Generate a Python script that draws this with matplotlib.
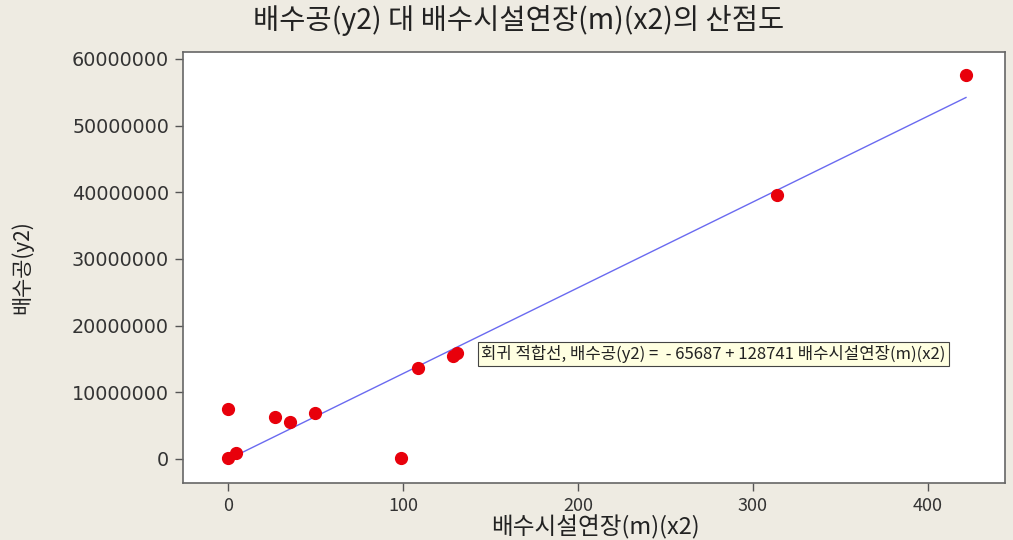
import matplotlib
matplotlib.use("Agg")
import matplotlib.pyplot as plt
import numpy as np

# Data
x2 = [0, 0, 4.6, 27, 35.4, 50, 99, 108.6, 128.6, 131, 314, 421.7]
y2 = [150000, 7500000, 900000, 6300000, 5550000, 6900000, 150000,
      13650000, 15450000, 15900000, 39600000, 57600000]
intercept = -65687
slope = 128741

title = "배수공(y2) 대 배수시설연장(m)(x2)의 산점도"
xlabel = "배수시설연장(m)(x2)"
ylabel = "배수공(y2)"
fit_label = "회귀 적합선, 배수공(y2) =  - 65687 + 128741 배수시설연장(m)(x2)"
xticks = [0, 100, 200, 300, 400]
yticks = [0, 10000000, 20000000, 30000000, 40000000, 50000000, 60000000]

KR = ['Noto Sans CJK KR', 'DejaVu Sans']
plt.rcParams['font.family'] = KR

bg = '#EEEBE2'
fig = plt.figure(figsize=(10.13, 5.40), dpi=100, facecolor=bg)
ax = fig.add_axes([183/1013, 57/540, 822/1013, 431/540])
ax.set_facecolor('white')

xs = np.array([min(x2), max(x2)])
ax.plot(xs, intercept + slope*xs, color='#6A6AF0', lw=1.0, zorder=2)
ax.plot(x2, y2, 'o', color='#E8000B', ms=8.5, mec='#E8000B', zorder=3)

ax.set_xlim(-25.7, 444)
ax.set_ylim(-3600000, 61050000)
ax.set_xticks(xticks)
ax.set_yticks(yticks)
ax.set_yticklabels([str(v) for v in yticks], family='DejaVu Sans', fontsize=13.8, color='#333333')
ax.set_xticklabels([str(v) for v in xticks], family=KR, fontsize=13, color='#333333')
ax.tick_params(direction='out', length=6, width=1, color='#555555', pad=4)
for s in ax.spines.values():
    s.set_color('#666666')
    s.set_linewidth(1.2)

ax.text(144.6, 15750000, fit_label, fontsize=12, va='center', ha='left',
        color='#222222',
        bbox=dict(boxstyle='square,pad=0.2', fc='#FFFFE1', ec='#444444', lw=0.8),
        zorder=4)

fig.text(519/1013, 1 - 20/540, title, ha='center', va='center', fontsize=20.5, color='#222222')
fig.text(595/1013, 1 - 527/540, xlabel, ha='center', va='center', fontsize=17, color='#222222')
fig.text(22/1013, 1 - 267/540, ylabel, ha='center', va='center', rotation=90, fontsize=15, color='#222222')

fig.savefig('out.png', dpi=100, facecolor=bg)
